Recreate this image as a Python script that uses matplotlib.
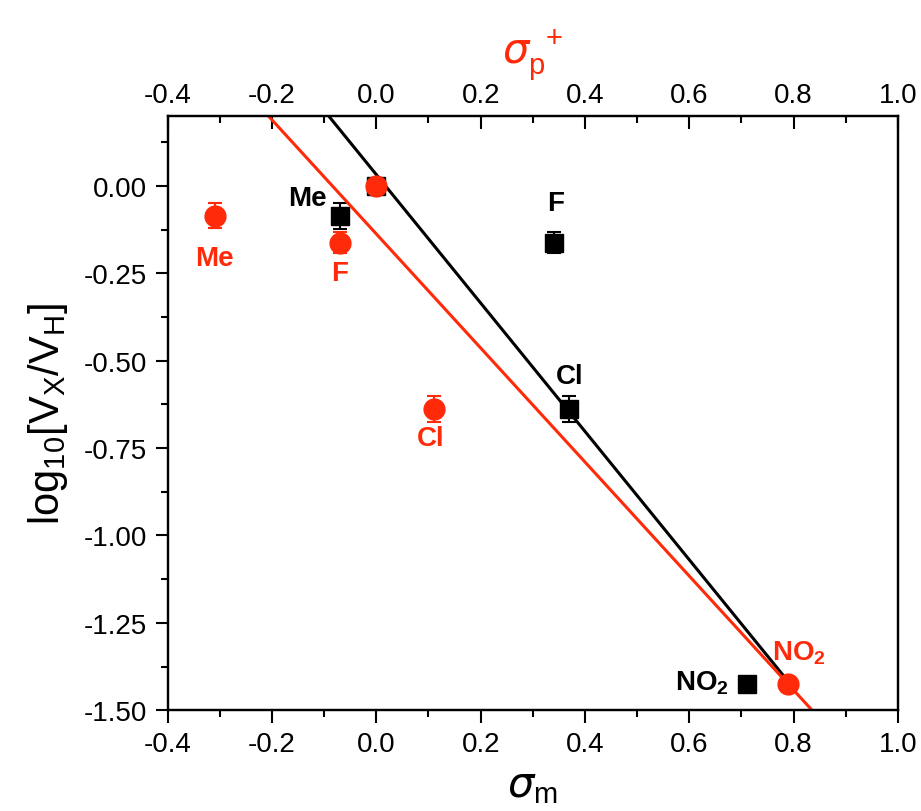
import matplotlib.pyplot as plt
from matplotlib.ticker import MultipleLocator

plt.rcParams['font.family'] = ['Liberation Sans', 'DejaVu Sans']
plt.rcParams['mathtext.default'] = 'regular'

labels = ['H', 'Me', 'F', 'Cl', 'NO$_2$']
sigma_m = [0.0, -0.07, 0.34, 0.37, 0.71]
sigma_p = [0.0, -0.31, -0.07, 0.11, 0.79]
log_v = [0.0, -0.085, -0.163, -0.637, -1.425]
err_m = [0.02, 0.037, 0.03, 0.037, 0.01]
err_p = [0.02, 0.036, 0.03, 0.037, 0.01]

# linear fits
fit_m_x = [-0.093, 0.78]
fit_m_y = [0.203, -1.40]
fit_p_x = [-0.21, 0.86]
fit_p_y = [0.205, -1.54]

red = '#ff2a0a'

fig = plt.figure(figsize=(9.21, 8.12), dpi=100)
ax = fig.add_axes([0.182, 0.124, 0.793, 0.732])
ax2 = ax.twiny()

ax.plot(fit_m_x, fit_m_y, color='black', lw=2.2, zorder=2)
ax.errorbar(sigma_m, log_v, yerr=err_m, fmt='s', color='black', ms=13,
            capsize=5, elinewidth=1.5, capthick=1.5, zorder=3)

ax2.plot(fit_p_x, fit_p_y, color=red, lw=2.2, zorder=2)
ax2.errorbar(sigma_p, log_v, yerr=err_p, fmt='o', color=red, ms=15,
             capsize=5, elinewidth=1.5, capthick=1.5, zorder=3)

# point labels
fs = 20
ax.text(-0.095, -0.035, 'Me', color='black', fontsize=fs, fontweight='bold',
        ha='right', va='center')
ax.text(0.344, -0.05, 'F', color='black', fontsize=fs, fontweight='bold',
        ha='center', va='center')
ax.text(0.37, -0.545, 'Cl', color='black', fontsize=fs, fontweight='bold',
        ha='center', va='center')
ax.text(0.675, -1.42, 'NO$_2$', color='black', fontsize=fs, fontweight='bold',
        ha='right', va='center')
ax2.text(-0.31, -0.205, 'Me', color=red, fontsize=fs, fontweight='bold',
         ha='center', va='center')
ax2.text(-0.07, -0.25, 'F', color=red, fontsize=fs, fontweight='bold',
         ha='center', va='center')
ax2.text(0.105, -0.72, 'Cl', color=red, fontsize=fs, fontweight='bold',
         ha='center', va='center')
ax2.text(0.81, -1.335, 'NO$_2$', color=red, fontsize=fs, fontweight='bold',
         ha='center', va='center')

for a in (ax, ax2):
    a.set_xlim(-0.4, 1.0)
    a.xaxis.set_major_locator(MultipleLocator(0.2))
    a.xaxis.set_minor_locator(MultipleLocator(0.1))
    a.xaxis.set_major_formatter(lambda v, p: f'{v:.1f}')
ax.set_ylim(-1.5, 0.2)
ax.yaxis.set_major_locator(MultipleLocator(0.25))
ax.yaxis.set_minor_locator(MultipleLocator(0.125))
ax.yaxis.set_major_formatter(lambda v, p: f'{v:.2f}')

for a in (ax, ax2):
    for s in a.spines.values():
        s.set_linewidth(1.6)
ax.tick_params(which='major', direction='out', length=9, width=1.5,
               labelsize=20, pad=6)
ax.tick_params(which='minor', direction='out', length=5, width=1.5)
ax2.tick_params(which='major', direction='in', length=9, width=1.5,
                labelsize=20, pad=6)
ax2.tick_params(which='minor', direction='in', length=5, width=1.5)

ax.set_xlabel(r'$\mathit{\sigma}_m$', fontsize=30, labelpad=6)
ax.set_ylabel('log$_{10}$[V$_X$/V$_H$]', fontsize=30, labelpad=10)
ax2.set_xlabel(r'$\mathit{\sigma}_p^{\ +}$', fontsize=30, color=red,
               labelpad=14)

fig.savefig('out.png', dpi=100)
